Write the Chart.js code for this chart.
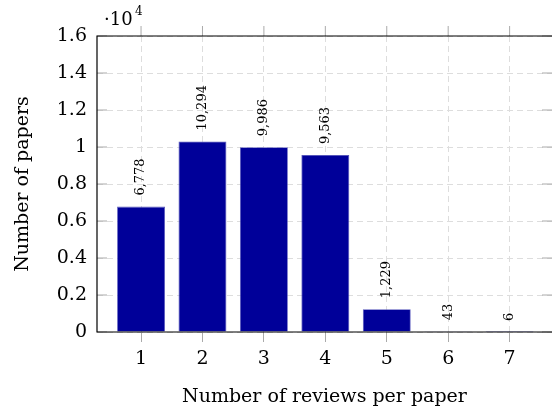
<!DOCTYPE html>
<html>
<head>
<meta charset="utf-8">
<script src="https://cdn.jsdelivr.net/npm/chart.js@4"></script>
<style>
  html, body { margin: 0; padding: 0; background: #fff; }
  #wrap { width: 552px; height: 412px; }
</style>
</head>
<body>
<div id="wrap"><canvas id="reviewsChart"></canvas></div>
<script>
// Data
const reviews = [1, 2, 3, 4, 5, 6, 7];
const papers = [6778, 10294, 9986, 9563, 1229, 43, 6];
const barLabels = ['6,778', '10,294', '9,986', '9,563', '1,229', '43', '6'];

const serif = '"DejaVu Serif", "Liberation Serif", serif';

// Draw the frame, extra tick marks, the 10^4 exponent and the rotated value labels
const decorations = {
  id: 'decorations',
  afterDatasetsDraw(chart) {
    const ctx = chart.ctx;
    const area = chart.chartArea;
    const meta = chart.getDatasetMeta(0);
    const xs = chart.scales.x, ys = chart.scales.y;

    ctx.save();
    // pgfplots style ticks: top outside, left/right inside
    ctx.strokeStyle = '#aaaaaa';
    ctx.lineWidth = 1;
    ctx.beginPath();
    xs.ticks.forEach(t => {
      const px = xs.getPixelForValue(t.value);
      ctx.moveTo(px, area.top);
      ctx.lineTo(px, area.top - 10);
    });
    ys.ticks.forEach(t => {
      const py = ys.getPixelForValue(t.value);
      ctx.moveTo(area.left, py);
      ctx.lineTo(area.left + 10, py);
      ctx.moveTo(area.right, py);
      ctx.lineTo(area.right - 10, py);
    });
    ctx.stroke();

    ctx.fillStyle = '#000';
    ctx.font = '13px ' + serif;
    ctx.textAlign = 'left';
    ctx.textBaseline = 'middle';
    meta.data.forEach((bar, i) => {
      ctx.save();
      ctx.translate(bar.x, bar.y - 11);
      ctx.rotate(-Math.PI / 2);
      ctx.fillText(barLabels[i], 0, 0);
      ctx.restore();
    });

    // frame: the right edge falls outside the picture
    ctx.strokeStyle = '#000';
    ctx.lineWidth = 1.2;
    ctx.beginPath();
    ctx.moveTo(area.right + 2, area.top);
    ctx.lineTo(area.left, area.top);
    ctx.lineTo(area.left, area.bottom);
    ctx.lineTo(area.right + 2, area.bottom);
    ctx.stroke();

    // exponent label above the y axis
    ctx.font = '18px ' + serif;
    ctx.textAlign = 'left';
    ctx.textBaseline = 'alphabetic';
    ctx.fillText('\u00b710', 104, 25);
    ctx.font = '12px ' + serif;
    ctx.fillText('4', 135, 15);
    ctx.restore();
  }
};

const ctx = document.getElementById('reviewsChart').getContext('2d');
new Chart(ctx, {
  type: 'bar',
  data: {
    datasets: [{
      data: reviews.map((r, i) => ({ x: r, y: papers[i] })),
      backgroundColor: '#000099',
      borderColor: '#5555bb',
      borderWidth: 0.8,
      barPercentage: 0.78,
      categoryPercentage: 1
    }]
  },
  options: {
    responsive: true,
    maintainAspectRatio: false,
    animation: false,
    layout: { padding: { top: 36, right: 0, left: 0, bottom: 0 } },
    plugins: {
      legend: { display: false },
      tooltip: { enabled: false }
    },
    scales: {
      x: {
        type: 'linear',
        min: 0.283,
        max: 7.69,
        offset: false,
        border: { display: false, dash: [6, 4] },
        grid: {
          offset: false,
          color: '#dddddd',
          tickColor: '#aaaaaa',
          tickBorderDash: [],
          tickLength: 10
        },
        ticks: {
          stepSize: 1,
          includeBounds: false,
          color: '#000',
          font: { family: serif, size: 19 },
          padding: 6
        },
        title: {
          display: true,
          text: 'Number of reviews per paper',
          color: '#000',
          font: { family: serif, size: 19 },
          padding: { top: 4 }
        },
        afterFit(scale) { scale.height = 80; }
      },
      y: {
        min: 0,
        max: 16000,
        border: { display: false, dash: [6, 4] },
        grid: {
          color: '#dddddd',
          drawTicks: false
        },
        ticks: {
          stepSize: 2000,
          color: '#000',
          font: { family: serif, size: 19 },
          padding: 10,
          callback: v => String(Math.round(v / 1000) / 10)
        },
        title: {
          display: true,
          text: 'Number of papers',
          color: '#000',
          font: { family: serif, size: 19 },
          padding: { top: 12, bottom: 6 }
        },
        afterFit(scale) { scale.width = 97; }
      }
    }
  },
  plugins: [decorations]
});
</script>
</body>
</html>
